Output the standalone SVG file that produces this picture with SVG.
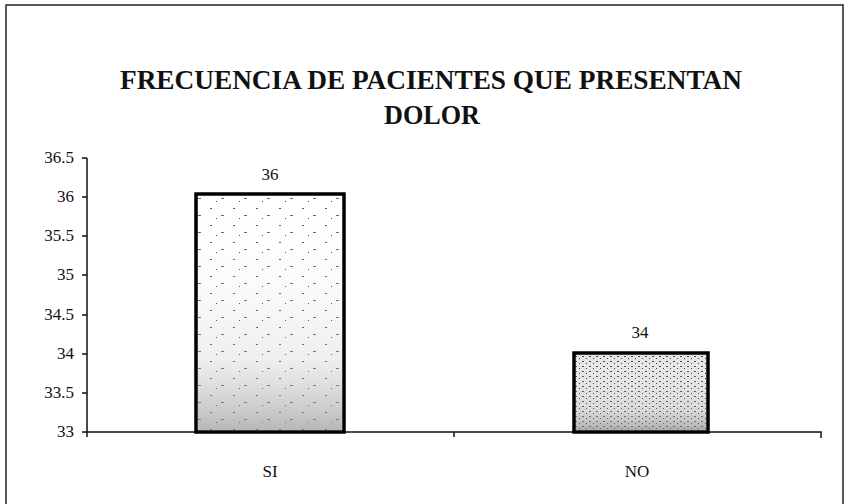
<svg xmlns="http://www.w3.org/2000/svg" width="845" height="504" viewBox="0 0 845 504">
<style>
.t{font-family:"Liberation Serif","DejaVu Serif",serif;font-weight:bold;font-size:27px;fill:#111}
.l{font-family:"Liberation Serif","DejaVu Serif",serif;font-size:17px;fill:#111}
.ax{stroke:#111;stroke-width:1.5;fill:none}
.bar{stroke:#000;stroke-width:3.5}
</style>
<defs>
<pattern id="dots1" width="23" height="17" patternUnits="userSpaceOnUse">
<rect width="23" height="17" fill="#fff"/>
<rect x="3" y="4" width="2" height="1" fill="#555"/>
<rect x="14" y="11" width="3" height="1" fill="#666"/>
<rect x="9" y="14" width="1" height="1" fill="#444"/>
</pattern>
<pattern id="dots2" width="7" height="5" patternUnits="userSpaceOnUse">
<rect width="7" height="5" fill="#e6e6e6"/>
<rect x="1" y="1" width="2" height="1" fill="#444"/>
<rect x="5" y="3" width="1" height="1" fill="#333"/>
</pattern>
<linearGradient id="g1" x1="0" y1="0" x2="0" y2="1">
<stop offset="0" stop-color="#fff" stop-opacity="0"/>
<stop offset="0.7" stop-color="#bbb" stop-opacity="0.25"/>
<stop offset="1" stop-color="#888" stop-opacity="0.6"/>
</linearGradient>
</defs>
<rect width="845" height="504" fill="#fff"/>
<path d="M6 504V5H843V504" fill="none" stroke="#222" stroke-width="1.5"/>
<g id="title">
<text class="t" x="431" y="89" text-anchor="middle" textLength="622" lengthAdjust="spacingAndGlyphs">FRECUENCIA DE PACIENTES QUE PRESENTAN</text>
<text class="t" x="432" y="124" text-anchor="middle" textLength="96" lengthAdjust="spacingAndGlyphs">DOLOR</text>
</g>
<g id="axes">
<path class="ax" d="M87 158V432H821V438"/>
<path class="ax" d="M82 158H87M82 197H87M82 236H87M82 275H87M82 315H87M82 354H87M82 393H87M82 432H87M454 432V437M87 432V437"/>
<g class="l" text-anchor="end">
<text x="74" y="163">36.5</text>
<text x="74" y="202">36</text>
<text x="74" y="241">35.5</text>
<text x="74" y="280">35</text>
<text x="74" y="320">34.5</text>
<text x="74" y="359">34</text>
<text x="74" y="398">33.5</text>
<text x="74" y="437">33</text>
</g>
<g class="l" text-anchor="middle">
<text x="270" y="477">SI</text>
<text x="637" y="477">NO</text>
</g>
</g>
<g id="bar-si">
<rect class="bar" x="196" y="194" width="148" height="238" fill="url(#dots1)"/>
<rect x="198" y="196" width="144" height="234" fill="url(#g1)"/>
<text class="l" x="270" y="180" text-anchor="middle">36</text>
</g>
<g id="bar-no">
<rect class="bar" x="574" y="353" width="134" height="79" fill="url(#dots2)"/>
<rect x="576" y="355" width="130" height="75" fill="url(#g1)"/>
<text class="l" x="640" y="338" text-anchor="middle">34</text>
</g>
</svg>
